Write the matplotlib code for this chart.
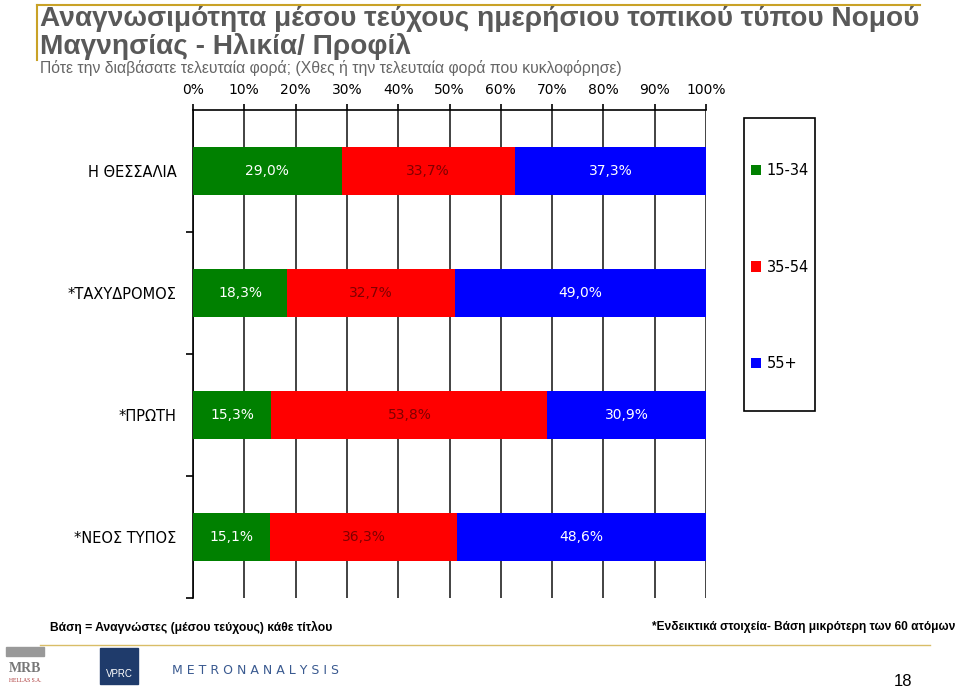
import matplotlib
matplotlib.use("Agg")
import matplotlib.pyplot as plt
from matplotlib.patches import Rectangle
from matplotlib.lines import Line2D
import numpy as np

# ---- data ----
categories = ["Η ΘΕΣΣΑΛΙΑ", "*ΤΑΧΥΔΡΟΜΟΣ", "*ΠΡΩΤΗ", "*ΝΕΟΣ ΤΥΠΟΣ"]
age_15_34 = [29.0, 18.3, 15.3, 15.1]
age_35_54 = [33.7, 32.7, 53.8, 36.3]
age_55p = [37.3, 49.0, 30.9, 48.6]
series_names = ["15-34", "35-54", "55+"]
tick_labels = ["0%", "10%", "20%", "30%", "40%", "50%", "60%", "70%", "80%", "90%", "100%"]

colors = ["#008000", "#FF0000", "#0000FF"]
label_colors = ["white", "#800000", "white"]

W, H = 959, 687
fig = plt.figure(figsize=(W / 100, H / 100), dpi=100)

def fx(px):
    return px / W

def fy(py):
    return 1 - py / H

ax = fig.add_axes([fx(193), fy(598), fx(706) - fx(193), fy(110) - fy(598)])

y = np.arange(len(categories))
series = [age_15_34, age_35_54, age_55p]
left = np.zeros(len(categories))
for vals, c, lc, name in zip(series, colors, label_colors, series_names):
    vals = np.array(vals)
    ax.barh(y, vals, left=left, height=0.4, color=c, label=name, zorder=3)
    for yi, l, v in zip(y, left, vals):
        ax.text(l + v / 2, yi, f"{v:.1f}%".replace(".", ","), ha="center", va="center",
                color=lc, fontsize=10, family="DejaVu Sans", zorder=4)
    left = left + vals

ax.set_xlim(0, 100)
ax.set_ylim(len(categories) - 0.5, -0.5)
ax.set_xticks(np.arange(0, 101, 10))
ax.set_xticklabels(tick_labels, fontsize=10)
ax.xaxis.tick_top()
ax.tick_params(axis="x", direction="out", length=4, width=1.2, pad=5, colors="black")
ax.grid(axis="x", color="#222222", linewidth=1.2, zorder=0)

ax.set_yticks(y)
ax.set_yticklabels(categories, fontsize=10.5)
ax.tick_params(axis="y", which="major", length=0, pad=12)
ax.set_yticks(np.arange(-0.5, len(categories), 1.0)[1:], minor=True)
ax.tick_params(axis="y", which="minor", direction="out", length=5, width=1.2)

for s in ["right", "bottom"]:
    ax.spines[s].set_visible(False)
ax.spines["top"].set_linewidth(1.2)
ax.spines["left"].set_linewidth(1.2)

# legend
fig.patches.append(Rectangle((fx(744), fy(411)), fx(815) - fx(744), fy(118) - fy(411),
                             transform=fig.transFigure, fill=False, edgecolor="black",
                             linewidth=1.2))
handles, labels = ax.get_legend_handles_labels()
fig.legend(handles, labels, loc="center", bbox_to_anchor=(fx(780), fy(267)),
           frameon=False, fontsize=10.5, labelspacing=5.6, handlelength=0.7,
           handleheight=0.7, handletextpad=0.4, borderpad=0)

# title and texts
gold = "#C9A227"
fig.add_artist(Line2D([fx(37), fx(920)], [fy(5), fy(5)], color=gold, lw=1.5))
fig.add_artist(Line2D([fx(37), fx(37)], [fy(5), fy(60)], color=gold, lw=1.5))
fig.text(fx(40), fy(19), "Αναγνωσιμότητα μέσου τεύχους ημερήσιου τοπικού τύπου Νομού",
         fontsize=20.2, fontweight="bold", color="#595959", family="Liberation Sans",
         va="center", ha="left")
fig.text(fx(40), fy(46), "Μαγνησίας - Ηλικία/ Προφίλ",
         fontsize=20.2, fontweight="bold", color="#595959", family="Liberation Sans",
         va="center", ha="left")
fig.text(fx(40), fy(68), "Πότε την διαβάσατε τελευταία φορά; (Χθες ή την τελευταία φορά που κυκλοφόρησε)",
         fontsize=11.3, color="#666666", family="Liberation Sans", va="center", ha="left")

fig.text(fx(50), fy(627), "Βάση = Αναγνώστες (μέσου τεύχους) κάθε τίτλου",
         fontsize=8.7, fontweight="bold", family="Liberation Sans", va="center", ha="left")
fig.text(fx(955), fy(627), "*Ενδεικτικά στοιχεία- Βάση μικρότερη των 60 ατόμων",
         fontsize=8.6, fontweight="bold", family="Liberation Sans", va="center", ha="right")
fig.add_artist(Line2D([fx(40), fx(930)], [fy(645), fy(645)], color=gold, lw=1.0, alpha=0.7))

# logos (approximate)
fig.patches.append(Rectangle((fx(6), fy(656)), fx(38), fy(647) - fy(656),
                             transform=fig.transFigure, color="#999999"))
fig.text(fx(25), fy(668), "MRB", fontsize=10, fontweight="bold", color="#777777",
         family="Liberation Serif", ha="center", va="center")
fig.text(fx(25), fy(680), "HELLAS S.A.", fontsize=4, color="#aa3333",
         family="Liberation Serif", ha="center", va="center")
fig.patches.append(Rectangle((fx(100), fy(684)), fx(38), fy(648) - fy(684),
                             transform=fig.transFigure, color="#1F3B6B"))
fig.text(fx(119), fy(674), "VPRC", fontsize=7, color="white", family="Liberation Sans",
         ha="center", va="center")
fig.text(fx(172), fy(670), "M E T R O N A N A L Y S I S", fontsize=9, color="#3A5A90",
         family="DejaVu Sans", ha="left", va="center")
fig.text(fx(903), fy(681), "18", fontsize=12, family="Liberation Sans", ha="center", va="center")

fig.savefig("out.png", dpi=100)
